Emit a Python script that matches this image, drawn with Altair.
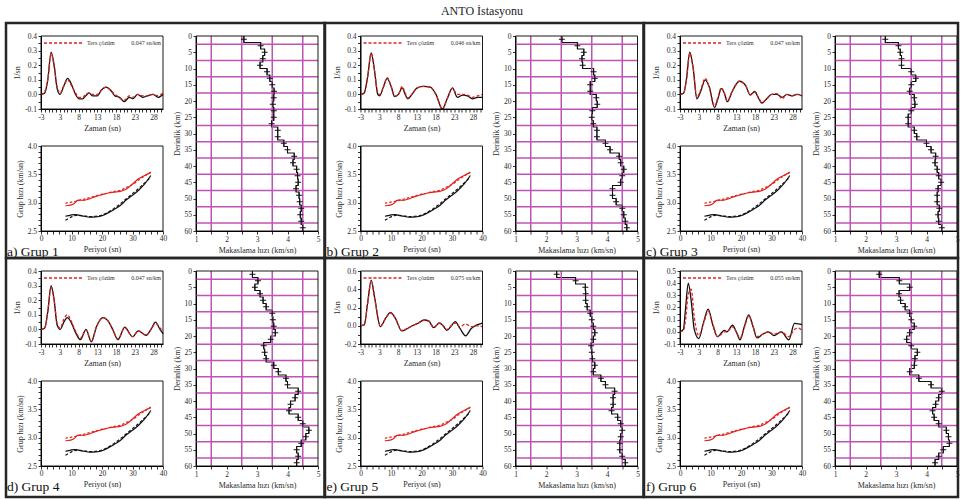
import altair as alt
import pandas as pd

# ---------------- text ----------------
TITLE = "ANTO İstasyonu"
GROUP_LABELS = ["a) Grup 1", "b) Grup 2", "c) Grup 3", "d) Grup 4", "e) Grup 5", "f) Grup 6"]
RAY_P = ["0.047 sn/km", "0.046 sn/km", "0.047 sn/km", "0.047 sn/km", "0.075 sn/km", "0.055 sn/km"]
LEGEND_TEXT = "Ters çözüm"

# ---------------- receiver functions ----------------
G1_T = [-2.5, -1.5, -0.7, 0.2, 1.0, 1.8, 2.6, 3.6, 4.6, 5.6, 6.7, 7.6, 8.6, 9.4, 10.3, 11.2, 12.5, 13.6, 14.8,
        16.0, 17.2, 18.4, 19.7, 21.0, 22.0, 23.2, 24.6, 25.8, 27.3, 28.7, 30.0]
G1_OBS = [0.0, 0.01, 0.1, 0.29, 0.2, 0.04, 0.0, 0.06, 0.11, 0.07, 0.0, -0.03, -0.03, -0.01, 0.01, -0.01, -0.01, 0.03,
          0.05, 0.03, -0.01, -0.02, -0.05, -0.02, -0.03, 0.0, -0.02, -0.01, 0.0, -0.02, 0.0]
G1_INV = [0.0, 0.02, 0.1, 0.28, 0.19, 0.05, 0.01, 0.06, 0.1, 0.06, 0.01, -0.02, -0.02, 0.0, 0.01, 0.0, 0.0, 0.03,
          0.05, 0.03, 0.0, -0.02, -0.04, -0.01, -0.02, 0.0, -0.01, -0.01, 0.0, -0.01, 0.01]

G2_T = [-2.5, -1.5, -0.6, 0.35, 1.2, 2.1, 2.6, 3.6, 4.6, 5.6, 6.6, 7.6, 8.6, 9.4, 10.1, 11.2, 12.6, 14.3, 16.1,
        17.6, 19.3, 20.6, 22.0, 23.3, 24.7, 26.0, 27.3, 28.7, 30.0]
G2_OBS = [0.0, 0.01, 0.12, 0.285, 0.17, 0.0, -0.01, 0.05, 0.11, 0.06, -0.015, 0.0, 0.045, 0.0, -0.03, 0.0, 0.045,
          0.055, 0.05, 0.0, -0.1, -0.03, 0.045, -0.02, -0.005, -0.01, -0.03, -0.02, -0.02]
G2_INV = [0.0, 0.01, 0.12, 0.28, 0.17, 0.01, 0.0, 0.05, 0.115, 0.06, -0.01, 0.0, 0.055, 0.01, -0.025, 0.0, 0.045,
          0.055, 0.05, 0.0, -0.1, -0.03, 0.04, 0.0, 0.0, -0.005, -0.02, -0.01, 0.0]

G3_T = [-2.5, -1.5, -0.8, 0.1, 1.0, 2.0, 3.0, 4.2, 5.3, 6.7, 7.6, 8.5, 9.3, 10.1, 11.4, 13.3, 15.0, 16.2, 17.4,
        18.3, 19.3, 20.6, 21.9, 23.3, 24.7, 26.0, 27.3, 28.7, 30.0]
G3_OBS = [0.0, 0.01, 0.1, 0.29, 0.18, -0.03, 0.02, 0.1, 0.05, -0.09, -0.03, 0.04, 0.01, -0.05, 0.02, 0.09, 0.06,
          -0.005, 0.02, -0.02, -0.06, -0.03, 0.0, 0.0, -0.02, 0.0, -0.01, 0.0, -0.01]
G3_INV = [0.0, 0.01, 0.1, 0.28, 0.18, -0.02, 0.03, 0.11, 0.05, -0.08, -0.02, 0.045, 0.01, -0.045, 0.02, 0.09, 0.06,
          0.0, 0.02, -0.015, -0.055, -0.03, 0.0, 0.005, -0.03, 0.0, -0.01, 0.0, -0.01]

G4_T = [-2.5, -1.5, -0.7, 0.2, 1.0, 1.8, 2.6, 3.6, 4.5, 5.5, 6.5, 8.0, 9.5, 10.9, 12.3, 14.0, 15.3, 16.6, 18.0,
        19.8, 21.9, 23.4, 25.5, 26.8, 28.0, 29.2, 30.0]
G4_OBS = [0.0, 0.01, 0.12, 0.3, 0.2, 0.03, 0.0, 0.05, 0.08, 0.05, -0.01, -0.07, 0.0, -0.085, 0.02, 0.08, 0.06, 0.0,
          -0.07, 0.015, -0.05, -0.01, -0.04, 0.0, 0.05, 0.0, -0.03]
G4_INV = [0.0, 0.01, 0.12, 0.29, 0.2, 0.04, 0.01, 0.07, 0.1, 0.06, 0.0, -0.06, -0.005, -0.08, 0.02, 0.08, 0.06, 0.0,
          -0.065, 0.01, -0.05, -0.01, -0.04, 0.0, 0.04, 0.01, -0.01]

G5_T = [-2.5, -1.5, -0.6, 0.35, 1.3, 2.8, 4.3, 5.5, 6.8, 8.5, 10.0, 11.3, 12.5, 14.5, 15.7, 17.0, 18.5, 19.5, 20.5,
        21.7, 22.7, 24.0, 25.5, 27.0, 28.5, 30.0]
G5_OBS = [0.0, 0.01, 0.25, 0.5, 0.3, -0.01, 0.09, 0.147, 0.08, -0.057, -0.03, 0.0, 0.02, 0.063, 0.05, -0.02, 0.03,
          0.0, -0.05, 0.0, 0.045, -0.03, -0.11, -0.03, 0.01, 0.03]
G5_INV = [0.0, 0.01, 0.24, 0.49, 0.29, 0.0, 0.09, 0.14, 0.08, -0.05, -0.03, 0.0, 0.02, 0.06, 0.05, -0.015, 0.03,
          0.0, -0.04, 0.0, 0.03, -0.01, 0.02, -0.01, 0.0, -0.01]

G6_T = [-2.5, -1.6, -1.0, -0.3, 0.5, 1.3, 2.5, 3.8, 5.0, 6.2, 7.5, 8.5, 9.3, 10.0, 11.5, 12.5, 13.5, 14.7, 15.8,
        16.9, 18.0, 19.5, 21.0, 22.5, 24.5, 26.5, 28.0, 29.0, 30.0]
G6_OBS = [0.0, 0.02, 0.2, 0.4, 0.25, 0.02, -0.055, 0.08, 0.186, 0.06, -0.04, -0.01, 0.012, 0.0, 0.054, 0.0, -0.065,
          0.05, 0.14, 0.05, -0.05, -0.02, 0.0, -0.03, 0.0, -0.065, 0.07, 0.065, 0.06]
G6_INV = [0.0, 0.01, 0.1, 0.31, 0.35, 0.12, -0.03, 0.07, 0.17, 0.07, -0.04, -0.02, 0.0, 0.0, 0.04, 0.0, -0.05,
          0.04, 0.13, 0.05, -0.04, -0.02, 0.0, -0.02, 0.0, -0.04, 0.02, 0.03, 0.01]

RF_T = [G1_T, G2_T, G3_T, G4_T, G5_T, G6_T]
RF_OBS = [G1_OBS, G2_OBS, G3_OBS, G4_OBS, G5_OBS, G6_OBS]
RF_INV = [G1_INV, G2_INV, G3_INV, G4_INV, G5_INV, G6_INV]
RF_XDOM = [-2.5, 30]
RF_YDOM = [[-0.1, 0.4], [-0.1, 0.4], [-0.1, 0.4], [-0.1, 0.4], [-0.2, 0.6], [-0.1, 0.5]]
RF_YMAJOR = [0.1, 0.1, 0.1, 0.1, 0.2, 0.1]
RF_XTICKS = [-2.5 + k for k in range(33)]

# ---------------- dispersion ----------------
PERIOD = [8, 9, 10, 11, 12, 13, 14, 16, 18, 20, 22, 24, 26, 28, 30, 32, 34, 36]
RED_OBS = [2.946, 2.95, 2.96, 2.99, 3.04, 3.045, 3.04, 3.07, 3.11, 3.14, 3.17, 3.185, 3.2, 3.24, 3.33, 3.42, 3.48, 3.53]
RED_PRED = [2.99, 3.0, 3.01, 3.02, 3.03, 3.05, 3.06, 3.09, 3.12, 3.15, 3.17, 3.2, 3.22, 3.27, 3.32, 3.4, 3.47, 3.54]
BLK_OBS = [2.76, 2.77, 2.785, 2.79, 2.785, 2.77, 2.76, 2.745, 2.75, 2.77, 2.82, 2.88, 2.95, 3.05, 3.13, 3.22, 3.33, 3.48]
BLK_PRED = [2.69, 2.72, 2.75, 2.77, 2.78, 2.775, 2.77, 2.755, 2.76, 2.78, 2.83, 2.9, 2.98, 3.07, 3.16, 3.25, 3.35, 3.45]
DISP_XDOM = [0, 40]
DISP_YDOM = [2.5, 4.0]
DISP_XTICKS = list(range(0, 41, 2))
DISP_YTICKS = [round(2.5 + 0.1 * k, 1) for k in range(16)]

# ---------------- shear velocity profiles ----------------
LAYER_TOP = list(range(0, 60, 2))
VS_G1 = [2.57, 3.12, 3.25, 3.19, 3.1, 3.33, 3.42, 3.5, 3.56, 3.55, 3.52, 3.55, 3.55, 3.48, 3.68, 3.68, 3.88, 4.0,
         4.22, 4.18, 4.3, 4.33, 4.35, 4.28, 4.38, 4.4, 4.45, 4.42, 4.45, 4.5]
VS_G2 = [2.52, 3.03, 3.24, 3.18, 3.2, 3.56, 3.6, 3.45, 3.45, 3.65, 3.68, 3.52, 3.5, 3.55, 3.67, 3.67, 3.95, 4.1,
         4.4, 4.45, 4.55, 4.5, 4.45, 4.18, 4.18, 4.3, 4.5, 4.55, 4.6, 4.65]
VS_G3 = [2.65, 3.08, 3.14, 3.18, 3.18, 3.5, 3.65, 3.5, 3.45, 3.6, 3.62, 3.5, 3.4, 3.4, 3.6, 3.68, 4.0, 4.15,
         4.3, 4.28, 4.35, 4.4, 4.48, 4.38, 4.35, 4.35, 4.42, 4.38, 4.4, 4.5]
VS_G4 = [2.85, 3.03, 2.93, 3.1, 3.2, 3.3, 3.5, 3.52, 3.55, 3.6, 3.45, 3.22, 3.25, 3.3, 3.55, 3.7, 3.95, 4.0,
         4.35, 4.25, 4.1, 4.05, 4.35, 4.5, 4.7, 4.6, 4.45, 4.3, 4.35, 4.3]
VS_G5 = [2.35, 2.97, 3.29, 3.3, 3.3, 3.35, 3.45, 3.5, 3.55, 3.6, 3.55, 3.48, 3.5, 3.52, 3.6, 3.55, 3.8, 3.95,
         4.25, 4.2, 4.2, 4.15, 4.35, 4.45, 4.5, 4.45, 4.42, 4.42, 4.5, 4.6]
VS_G6 = [2.45, 3.11, 3.45, 3.1, 3.15, 3.3, 3.45, 3.5, 3.6, 3.45, 3.35, 3.5, 3.7, 3.62, 3.6, 3.45, 3.75, 4.15,
         4.5, 4.4, 4.3, 4.2, 4.25, 4.4, 4.65, 4.72, 4.75, 4.55, 4.4, 4.28]
VS = [VS_G1, VS_G2, VS_G3, VS_G4, VS_G5, VS_G6]
PROF_XDOM = [1, 5]
PROF_YDOM = [0, 60]
PROF_XTICKS = [1 + 0.5 * k for k in range(9)]
PROF_YTICKS = list(range(0, 61, 5))
GRID_V = [1.5, 2.5, 3.5, 4.5]
GRID_D = [2.5 + 5 * k for k in range(12)]

# ---------------- style / layout ----------------
FONT = "Liberation Serif"
RED = "#e4201c"
INK = "#111111"
GRIDC = "#bd55b6"
FRAMEC = "#262626"
W, H = 277, 195
RF_W, RF_H = 122, 73
DISP_TOP = 110
PROF_X0 = 155
BOX_L = [-35, -36, -36]
BOX_R = [284, 283, 278]
BOX_T = [-13, -13]
BOX_B = [222, 226]
AX = dict(titleFontWeight="normal", titleFont=FONT, labelFont=FONT, titleColor="#2a2a2a", labelColor="#2a2a2a")


def one_row(**kw):
    return pd.DataFrame({k: [v] for k, v in kw.items()})


def num_label(step):
    return (f"abs(datum.value/{step} - round(datum.value/{step})) < 1e-6 ? "
            "replace(format(datum.value, '.1f'), '\u2212', '-') : ''")


def frame(xdom, ydom, xs, ys, xa, ya):
    return alt.Chart(one_row(x0=xdom[0], x1=xdom[1], y0=ydom[0], y1=ydom[1])).mark_rect(
        fillOpacity=0, stroke="black", strokeWidth=0.9
    ).encode(
        x=alt.X("x0:Q", scale=xs, axis=xa), x2="x1:Q",
        y=alt.Y("y0:Q", scale=ys, axis=ya), y2="y1:Q",
    )


def rf_layer(i):
    xs = alt.Scale(domain=RF_XDOM, range=[0, RF_W], nice=False, zero=False)
    ys = alt.Scale(domain=RF_YDOM[i], range=[RF_H, 0], nice=False, zero=False)
    lo, hi = RF_YDOM[i]
    half = RF_YMAJOR[i] / 2
    yvals = [round(lo + k * half, 3) for k in range(int(round((hi - lo) / half)) + 1)]
    xa = alt.Axis(title="Zaman (sn)", orient="bottom", offset=RF_H - H, values=RF_XTICKS,
                  labelExpr="(datum.value + 2.5) % 5 == 0 ? '' + (datum.value < 0 ? datum.value - 0.5 : datum.value + 0.5) : ''",
                  **AX)
    ya = alt.Axis(title="1/sn", orient="left", values=yvals, labelExpr=num_label(RF_YMAJOR[i]), **AX)
    df = pd.DataFrame({"t": RF_T[i], "obs": RF_OBS[i], "inv": RF_INV[i]})
    obs = alt.Chart(df).mark_line(color=INK, strokeWidth=1.3, interpolate="monotone").encode(
        x=alt.X("t:Q", scale=xs, axis=xa), y=alt.Y("obs:Q", scale=ys, axis=ya))
    inv = alt.Chart(df).mark_line(color=RED, strokeWidth=1.3, strokeDash=[3, 2], interpolate="monotone").encode(
        x=alt.X("t:Q", scale=xs, axis=xa), y=alt.Y("inv:Q", scale=ys, axis=ya))
    row = one_row(k=0)
    leg_line = alt.Chart(row).mark_rule(color=RED, strokeWidth=1.3, strokeDash=[3, 2]).encode(
        x=alt.value(3), x2=alt.value(41), y=alt.value(7))
    leg_txt = alt.Chart(row).mark_text(text=LEGEND_TEXT, font=FONT, fontSize=6, align="left",
                                       baseline="middle", color="#333").encode(x=alt.value(46), y=alt.value(7))
    p_txt = alt.Chart(row).mark_text(text=RAY_P[i], font=FONT, fontSize=6, align="right",
                                     baseline="middle", color="#333").encode(x=alt.value(120), y=alt.value(7))
    return alt.layer(obs, inv, frame(RF_XDOM, RF_YDOM[i], xs, ys, xa, ya), leg_line, leg_txt, p_txt)


def disp_layer():
    xs = alt.Scale(domain=DISP_XDOM, range=[0, RF_W], nice=False, zero=False)
    ys = alt.Scale(domain=DISP_YDOM, range=[H, DISP_TOP], nice=False, zero=False)
    xa = alt.Axis(title="Periyot (sn)", orient="bottom", values=DISP_XTICKS, labelPadding=0.5,
                  labelExpr="datum.value % 10 == 0 ? '' + datum.value : ''", **AX)
    ya = alt.Axis(title="Grup hızı (km/sn)", orient="left", values=DISP_YTICKS, labelExpr=num_label(0.5), **AX)
    df = pd.DataFrame({"p": PERIOD, "ro": RED_OBS, "rp": RED_PRED, "bo": BLK_OBS, "bp": BLK_PRED})
    layers = []
    for field, color, dash in [("ro", RED, None), ("rp", RED, [2.5, 2]),
                               ("bo", INK, None), ("bp", INK, [3, 2])]:
        mk = dict(color=color, strokeWidth=1.2, interpolate="monotone")
        if dash:
            mk["strokeDash"] = dash
        layers.append(alt.Chart(df).mark_line(**mk).encode(
            x=alt.X("p:Q", scale=xs, axis=xa),
            y=alt.Y(f"{field}:Q", scale=ys, axis=ya)))
    return alt.layer(*layers, frame(DISP_XDOM, DISP_YDOM, xs, ys, xa, ya))


def prof_layer(i):
    xs = alt.Scale(domain=PROF_XDOM, range=[PROF_X0, W], nice=False, zero=False)
    ys = alt.Scale(domain=PROF_YDOM, range=[0, H], nice=False, zero=False)
    xa = alt.Axis(title="Makaslama hızı (km/sn)", orient="bottom", values=PROF_XTICKS,
                  labelExpr="datum.value % 1 == 0 ? '' + datum.value : ''", **AX)
    ya = alt.Axis(title="Derinlik (km)", orient="left", offset=-PROF_X0, values=PROF_YTICKS, **AX)
    bottoms = LAYER_TOP[1:] + [PROF_YDOM[1]]
    pts = []
    mids = []
    for k, (top, bot, v) in enumerate(zip(LAYER_TOP, bottoms, VS[i])):
        pts.append({"o": 2 * k, "v": v, "d": top})
        pts.append({"o": 2 * k + 1, "v": v, "d": bot})
        mids.append({"v": v, "d": (top + bot) / 2})
    gv = alt.Chart(pd.DataFrame({"v": GRID_V, "d0": PROF_YDOM[0], "d1": PROF_YDOM[1]})).mark_rule(
        color=GRIDC, strokeWidth=1.5).encode(
        x=alt.X("v:Q", scale=xs, axis=xa), y=alt.Y("d0:Q", scale=ys, axis=ya), y2="d1:Q")
    gh = alt.Chart(pd.DataFrame({"d": GRID_D, "v0": PROF_XDOM[0], "v1": PROF_XDOM[1]})).mark_rule(
        color=GRIDC, strokeWidth=1.5).encode(
        y=alt.Y("d:Q", scale=ys, axis=ya), x=alt.X("v0:Q", scale=xs, axis=xa), x2="v1:Q")
    step = alt.Chart(pd.DataFrame(pts)).mark_line(color=INK, strokeWidth=1.1).encode(
        x=alt.X("v:Q", scale=xs, axis=xa), y=alt.Y("d:Q", scale=ys, axis=ya), order="o:Q")
    cross = alt.Chart(pd.DataFrame(mids)).mark_point(
        shape="M-1,0L1,0M0,-1L0,1", size=36, filled=False, stroke=INK, strokeWidth=1, opacity=1).encode(
        x=alt.X("v:Q", scale=xs, axis=xa), y=alt.Y("d:Q", scale=ys, axis=ya))
    return alt.layer(step, gv, gh, frame(PROF_XDOM, PROF_YDOM, xs, ys, xa, ya), cross)


def unit(i):
    r, c = divmod(i, 3)
    row = one_row(k=0)
    box = alt.Chart(row).mark_rect(fillOpacity=0, stroke=FRAMEC, strokeWidth=2.5).encode(
        x=alt.value(BOX_L[c]), x2=alt.value(BOX_R[c]), y=alt.value(BOX_T[r]), y2=alt.value(BOX_B[r]))
    lab = alt.Chart(row).mark_text(text=GROUP_LABELS[i], font=FONT, fontSize=13.5, align="left",
                                   baseline="alphabetic", color="#111").encode(x=alt.value(-34), y=alt.value(220))
    return alt.layer(rf_layer(i), disp_layer(), prof_layer(i), box, lab).resolve_scale(
        x="independent", y="independent").properties(width=W, height=H)


chart = alt.concat(
    *[unit(i) for i in range(6)], columns=3, spacing={"row": 40, "column": 42.5}, bounds="flush",
    title=alt.TitleParams(TITLE, font=FONT, fontSize=12, fontWeight="normal", color="#222",
                          anchor="middle", offset=4),
).properties(
    padding={"left": 4, "top": 4, "right": 0, "bottom": 0}
).configure_view(stroke=None).configure_axis(
    labelFont=FONT, titleFont=FONT, labelFontSize=7.5, titleFontSize=8, titleFontWeight="normal",
    labelColor="#2a2a2a", titleColor="#2a2a2a", domainColor="black", tickColor="black", tickSize=3,
    labelPadding=1.5, titlePadding=3, labelFlush=False, labelOverlap=False, grid=False,
    domainWidth=1, tickWidth=0.8,
)

chart.save("out.html", embed_options={"renderer": "svg", "actions": False})
